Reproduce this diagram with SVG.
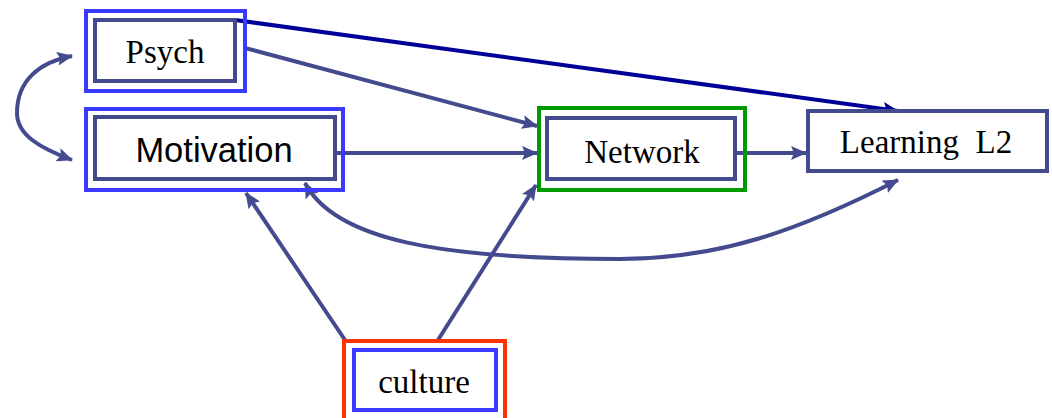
<svg xmlns="http://www.w3.org/2000/svg" width="1052" height="418" viewBox="0 0 1052 418">
<defs>
<marker id="ah" viewBox="0 0 16 14" refX="15" refY="7" markerWidth="16" markerHeight="14" markerUnits="userSpaceOnUse" orient="auto-start-reverse">
<path d="M0,0 L16,7 L0,14 L3,7 Z" fill="#444a8e"/>
</marker>
<marker id="ahn" viewBox="0 0 16 14" refX="15" refY="7" markerWidth="16" markerHeight="14" markerUnits="userSpaceOnUse" orient="auto">
<path d="M0,0 L16,7 L0,14 L3,7 Z" fill="#000099"/>
</marker>
</defs>
<style>
.outer{fill:none;stroke:#3a3aff;stroke-width:4}
.inner{fill:#fff;stroke:#444a8e;stroke-width:4}
.green{fill:none;stroke:#009900;stroke-width:4}
.red{fill:none;stroke:#ff3300;stroke-width:4}
.conn{fill:none;stroke:#444a8e;stroke-width:4;marker-end:url(#ah)}
.both{marker-start:url(#ah)}
.navy{fill:none;stroke:#000099;stroke-width:4;marker-end:url(#ahn)}
.serif{font-family:"Liberation Serif","Times New Roman",serif;font-size:33px;fill:#000;text-anchor:middle;white-space:pre}
.sans{font-family:"Liberation Sans",Arial,sans-serif;font-size:34.5px;fill:#000;text-anchor:middle}
</style>
<rect width="1052" height="418" fill="#fff"/>
<g id="connectors">
<line class="navy" x1="235" y1="20" x2="898" y2="111"/>
<line class="conn" x1="245" y1="48" x2="537" y2="126"/>
<line class="conn" x1="337" y1="153" x2="537" y2="153"/>
<line class="conn" x1="737" y1="153" x2="806" y2="153"/>
<line class="conn" x1="438" y1="340" x2="536" y2="185"/>
<line class="conn" x1="345" y1="340" x2="246" y2="193"/>
<path class="conn both" d="M305,183 C335,240 440,259 620,259 C720,259 800,230 898,180"/>
<path class="conn both" d="M72,56 C40,62 17,80 17,113 C17,135 40,148 72,160"/>
</g>
<g id="psych">
<rect class="outer" x="86" y="11" width="159" height="80"/>
<rect class="inner" x="95" y="20" width="140" height="61"/>
<text class="serif" x="165" y="63">Psych</text>
</g>
<g id="motivation">
<rect class="outer" x="86" y="109" width="257" height="81"/>
<rect class="inner" x="95" y="117" width="240" height="62"/>
<text class="sans" x="214" y="162">Motivation</text>
</g>
<g id="network">
<rect class="green" x="539" y="108" width="206" height="82"/>
<rect class="inner" x="547" y="118" width="188" height="61"/>
<text class="serif" x="642" y="163">Network</text>
</g>
<g id="learning">
<rect class="inner" x="808" y="111" width="239" height="60"/>
<text class="serif" x="926" y="153">Learning  L2</text>
</g>
<g id="culture">
<rect class="red" x="344" y="341" width="161" height="90"/>
<rect fill="#fff" stroke="#3a3aff" stroke-width="4" x="354" y="350" width="142" height="60"/>
<text class="serif" x="424" y="393">culture</text>
</g>
</svg>
